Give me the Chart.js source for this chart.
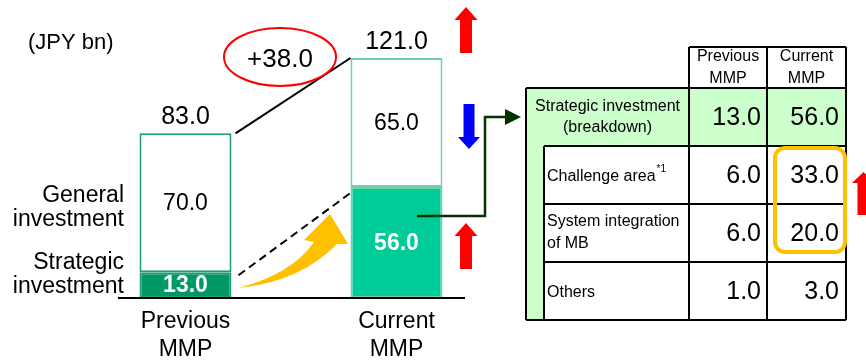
<!DOCTYPE html>
<html>
<head>
<meta charset="utf-8">
<script src="https://cdn.jsdelivr.net/npm/chart.js@4"></script>
<style>
  html, body { margin: 0; padding: 0; background: #fff; }
  #wrap { width: 866px; height: 361px; }
</style>
</head>
<body>
<div id="wrap"><canvas id="invChart" width="866" height="361"></canvas></div>
<script>
// values
const categories = [['Previous', 'MMP'], ['Current', 'MMP']];
const seriesNames = ['Strategic investment', 'General investment'];
const strategic = [13.0, 56.0];
const general = [70.0, 65.0];
const totals = [83.0, 121.0];

const tableHeader = [['Previous', 'MMP'], ['Current', 'MMP']];
const breakdownLabels = [['Challenge area'], ['System integration', 'of MB'], ['Others']];
const breakdownPrev = [6.0, 6.0, 1.0];
const breakdownCurr = [33.0, 20.0, 3.0];

const FONT = '"Liberation Sans", Arial, sans-serif';

function fmt(v) { return v.toFixed(1); }

function arrow(ctx, cx, tipY, baseY, endY, hs, hh, color) {
  ctx.save();
  ctx.fillStyle = color;
  ctx.beginPath();
  ctx.moveTo(cx, tipY);
  ctx.lineTo(cx + hh, baseY);
  ctx.lineTo(cx + hs, baseY);
  ctx.lineTo(cx + hs, endY);
  ctx.lineTo(cx - hs, endY);
  ctx.lineTo(cx - hs, baseY);
  ctx.lineTo(cx - hh, baseY);
  ctx.closePath();
  ctx.fill();
  ctx.restore();
}

function txt(ctx, s, x, y, size, align, color, bold) {
  ctx.font = (bold ? 'bold ' : '') + size + 'px ' + FONT;
  ctx.textAlign = align || 'center';
  ctx.textBaseline = 'middle';
  ctx.fillStyle = color || '#000';
  ctx.fillText(s, x, y);
}

const overlay = {
  id: 'overlay',
  afterDatasetsDraw(chart) {
    const ctx = chart.ctx;
    const y = chart.scales.y;
    const strat = chart.getDatasetMeta(0).data;
    const gen = chart.getDatasetMeta(1).data;

    // baseline
    ctx.save();
    ctx.strokeStyle = '#000';
    ctx.lineWidth = 2;
    ctx.beginPath();
    ctx.moveTo(118, y.getPixelForValue(0));
    ctx.lineTo(465, y.getPixelForValue(0));
    ctx.stroke();

    // connector lines between bars
    const p = gen[0], c = gen[1];
    ctx.beginPath();
    ctx.moveTo(p.x + p.width / 2 + 4, p.y);
    ctx.lineTo(c.x - c.width / 2, c.y);
    ctx.stroke();
    ctx.setLineDash([8, 5]);
    ctx.beginPath();
    ctx.moveTo(strat[0].x + strat[0].width / 2 + 7, strat[0].y + 3);
    ctx.lineTo(strat[1].x - strat[1].width / 2, strat[1].y + 6);
    ctx.stroke();
    ctx.setLineDash([]);

    // yellow swoosh arrow
    ctx.fillStyle = '#ffc000';
    ctx.beginPath();
    ctx.moveTo(238, 288);
    ctx.quadraticCurveTo(292, 274, 314, 242);
    ctx.lineTo(304, 240);
    ctx.lineTo(330, 214);
    ctx.lineTo(348, 244);
    ctx.lineTo(337, 244);
    ctx.quadraticCurveTo(300, 282, 238, 288);
    ctx.closePath();
    ctx.fill();

    // value labels
    for (let i = 0; i < categories.length; i++) {
      const s = strat[i], g = gen[i];
      txt(ctx, fmt(totals[i]), g.x, y.getPixelForValue(totals[i]) - 16, 25);
      txt(ctx, fmt(general[i]), g.x, (g.y + g.base) / 2 + 1, 23);
      txt(ctx, fmt(strategic[i]), s.x, (s.y + s.base) / 2 + 1, 23, 'center', '#fff', true);
      txt(ctx, categories[i][0], g.x, 322, 23);
      txt(ctx, categories[i][1], g.x, 350, 23);
    }

    // ellipse with increase
    ctx.strokeStyle = '#ff0000';
    ctx.lineWidth = 2;
    ctx.beginPath();
    ctx.ellipse(280, 57, 56, 29, 0, 0, Math.PI * 2);
    ctx.stroke();
    const diff = totals[1] - totals[0];
    txt(ctx, '+' + fmt(diff), 280, 60, 26);

    txt(ctx, '(JPY bn)', 28, 43, 22, 'left');
    txt(ctx, 'General', 124, 196, 23, 'right');
    txt(ctx, 'investment', 124, 220, 23, 'right');
    txt(ctx, 'Strategic', 124, 263, 23, 'right');
    txt(ctx, 'investment', 124, 287, 23, 'right');

    // up / down arrows
    arrow(ctx, 466, 7, 20, 53, 6, 11.5, '#ff0000');
    arrow(ctx, 469, 149, 137, 104, 5.5, 11, '#0000ff');
    arrow(ctx, 466, 223, 236, 269, 6, 11.5, '#ff0000');
    arrow(ctx, 863.5, 172, 183, 215, 6, 11.5, '#ff0000');

    // elbow connector to table
    ctx.strokeStyle = '#003300';
    ctx.lineWidth = 2.5;
    ctx.beginPath();
    ctx.moveTo(417, 216);
    ctx.lineTo(485, 216);
    ctx.lineTo(485, 117);
    ctx.lineTo(506, 117);
    ctx.stroke();
    ctx.fillStyle = '#003300';
    ctx.beginPath();
    ctx.moveTo(521, 117);
    ctx.lineTo(505, 109);
    ctx.lineTo(505, 125);
    ctx.closePath();
    ctx.fill();

    drawTable(ctx);
    ctx.restore();
  }
};

function drawTable(ctx) {
  const x0 = 526, xi = 544, c1 = 689, c2 = 767, c3 = 846;
  const rows = [88, 146, 204, 262, 320];
  const hTop = 47;

  ctx.fillStyle = '#ccffcc';
  ctx.fillRect(x0, rows[0], c3 - x0, rows[1] - rows[0]);
  ctx.fillRect(x0, rows[1], xi - x0, rows[4] - rows[1]);

  ctx.strokeStyle = '#000';
  ctx.lineWidth = 2;
  ctx.beginPath();
  ctx.moveTo(c1, hTop); ctx.lineTo(c3, hTop);
  ctx.moveTo(x0, rows[0]); ctx.lineTo(c3, rows[0]);
  for (let r = 1; r < 4; r++) { ctx.moveTo(xi, rows[r]); ctx.lineTo(c3, rows[r]); }
  ctx.moveTo(x0, rows[4]); ctx.lineTo(c3, rows[4]);
  ctx.moveTo(x0, rows[0]); ctx.lineTo(x0, rows[4]);
  ctx.moveTo(xi, rows[1]); ctx.lineTo(xi, rows[4]);
  ctx.moveTo(c1, hTop); ctx.lineTo(c1, rows[4]);
  ctx.moveTo(c2, hTop); ctx.lineTo(c2, rows[4]);
  ctx.moveTo(c3, hTop); ctx.lineTo(c3, rows[4]);
  ctx.stroke();

  // header
  const hx = [(c1 + c2) / 2, (c2 + c3) / 2];
  tableHeader.forEach((h, i) => {
    txt(ctx, h[0], hx[i], 57, 16);
    txt(ctx, h[1], hx[i], 79, 16);
  });

  // strategic total row
  txt(ctx, 'Strategic investment', (x0 + c1) / 2, 107, 16);
  txt(ctx, '(breakdown)', (x0 + c1) / 2, 128, 16);
  txt(ctx, fmt(strategic[0]), c2 - 6, 118, 25, 'right');
  txt(ctx, fmt(strategic[1]), c3 - 7, 118, 25, 'right');

  // breakdown rows
  breakdownLabels.forEach((lab, i) => {
    const mid = (rows[i + 1] + rows[i + 2]) / 2;
    if (lab.length === 1) {
      txt(ctx, lab[0], 547, mid + 2, 16, 'left');
      if (i === 0) {
        ctx.font = '16px ' + FONT;
        const w = ctx.measureText(lab[0]).width;
        txt(ctx, '*1', 547 + w + 1, mid - 6, 10, 'left');
      }
    } else {
      txt(ctx, lab[0], 547, mid - 11, 16, 'left');
      txt(ctx, lab[1], 547, mid + 11, 16, 'left');
    }
    txt(ctx, fmt(breakdownPrev[i]), c2 - 6, mid + 1, 25, 'right');
    txt(ctx, fmt(breakdownCurr[i]), c3 - 7, mid + 1, 25, 'right');
  });

  // highlight box around the big increases
  ctx.strokeStyle = '#ffc000';
  ctx.lineWidth = 4;
  ctx.beginPath();
  ctx.roundRect(775, 148, 70, 104, 10);
  ctx.stroke();
}

new Chart(document.getElementById('invChart'), {
  type: 'bar',
  data: {
    labels: categories.map(c => c.join(' ')),
    datasets: [
      {
        label: seriesNames[0],
        data: strategic,
        backgroundColor: ['#009966', '#00cc99'],
        borderColor: ['#1f9e70', '#70d0a8'],
        borderWidth: 2,
        borderSkipped: false
      },
      {
        label: seriesNames[1],
        data: general,
        backgroundColor: '#ffffff',
        borderColor: ['#1f9e70', '#70d0a8'],
        borderWidth: 2,
        borderSkipped: false
      }
    ]
  },
  options: {
    responsive: false,
    animation: false,
    events: [],
    layout: { padding: { left: 80, right: 364, top: 58, bottom: 63 } },
    categoryPercentage: 0.436,
    barPercentage: 1,
    scales: {
      x: { stacked: true, display: false },
      y: { stacked: true, display: false, min: 0, max: 121 }
    },
    plugins: {
      legend: { display: false },
      tooltip: { enabled: false }
    }
  },
  plugins: [overlay]
});
</script>
</body>
</html>
